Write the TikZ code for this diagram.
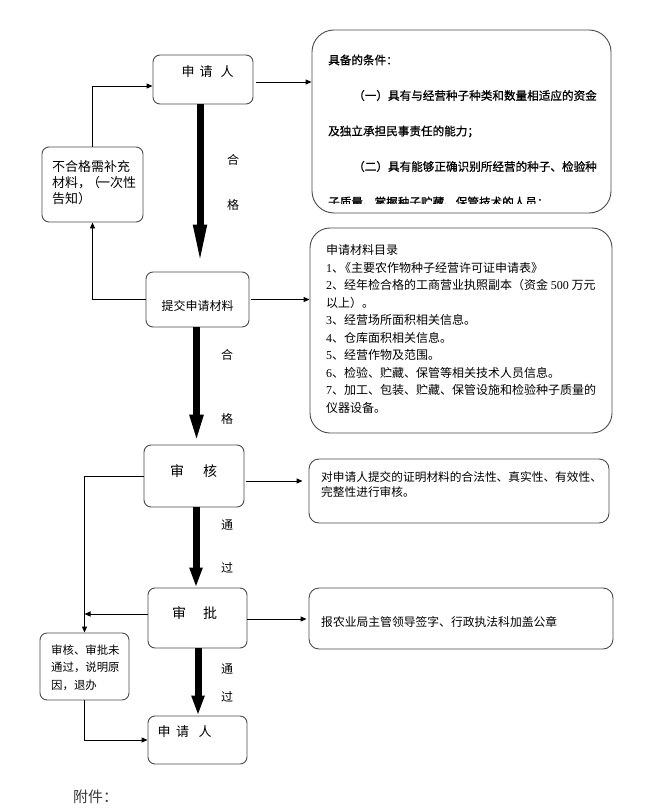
\documentclass[tikz,border=0pt]{standalone}
\usepackage{fontspec}
\setmainfont{Noto Sans CJK SC}
\newfontfamily\ser{Liberation Serif}
\newfontfamily\cjksemi[FakeBold=0.9]{Noto Sans CJK SC}
\usetikzlibrary{arrows.meta,calc}
\definecolor{bordergray}{HTML}{4A4A4A}
\definecolor{fjgray}{HTML}{3A3A3A}
\begin{document}
\begin{tikzpicture}[x=1pt,y=-1pt,
  box/.style={draw=bordergray, line width=0.9pt, rounded corners=7pt, inner sep=0},
  bigbox/.style={box, rounded corners=20pt},
  arr/.style={draw=black, line width=0.9pt, -{Triangle[length=6pt,width=5pt]}},
  fat/.style={line width=7pt, -{Triangle[length=30pt,width=12pt]}},
  lbl/.style={inner sep=0, font=\fontsize{12}{12}\selectfont},
  txt/.style={inner sep=0, anchor=west, align=left}]
\useasboundingbox (0,0) rectangle (652,810);
% boxes
\node[box, minimum width=100pt, minimum height=49pt] (r1) at (203,79.5) {};
\node[bigbox, rounded corners=22pt, minimum width=299pt, minimum height=183pt] (cond) at (461.5,121.5) {};
\node[box, minimum width=101pt, minimum height=75pt] (bhg) at (92.5,184.5) {};
\node[box, minimum width=103pt, minimum height=55pt] (tj) at (197.5,299.5) {};
\node[bigbox, minimum width=302pt, minimum height=205pt] (cl) at (461,330.5) {};
\node[box, minimum width=100pt, minimum height=62pt] (sh) at (194,476) {};
\node[box, rounded corners=10pt, minimum width=300pt, minimum height=64pt] (shd) at (459,491) {};
\node[box, minimum width=99pt, minimum height=60pt] (sp) at (197.5,618) {};
\node[box, rounded corners=10pt, minimum width=304pt, minimum height=61pt] (spd) at (461,618.5) {};
\node[box, minimum width=89pt, minimum height=67pt] (btg) at (84.5,666.5) {};
\node[box, minimum width=99pt, minimum height=48pt] (r2) at (197.5,740) {};
% thick arrows
\draw[fat, -{Triangle[length=42pt,width=12pt]}] ([xshift=-3pt]r1.south) -- ([xshift=-3pt,yshift=5pt]r1.south |- tj.north);
\draw[fat] ([xshift=-1pt]tj.south) -- ([xshift=-1pt]tj.south |- sh.north);
\draw[fat, -{Triangle[length=20pt,width=12pt]}] ([xshift=2pt]sh.south) -- ([xshift=2pt]sh.south |- sp.north);
\draw[fat, -{Triangle[length=20pt,width=12pt]}] ([xshift=0.5pt]sp.south) -- ([xshift=0.5pt]sp.south |- r2.north);
% thin arrows
\draw[arr] ([xshift=3pt,yshift=-2.5pt]r1.east) -- ([yshift=-2.5pt]r1.east -| cond.west);
\draw[arr] (bhg.north) |- ([yshift=-6.5pt]r1.west);
\draw[arr] (tj.west) -| (bhg.south);
\draw[arr] ([xshift=2pt]tj.east) -- (tj.east -| cl.west);
\draw[arr, shorten >=6pt] ([xshift=2pt,yshift=-5pt]sh.east) -- ([yshift=-5pt]sh.east -| shd.west);
\draw[arr] (sh.west) -| (btg.north);
\draw[arr] ([yshift=4pt]sp.west) -- ([yshift=4pt]sp.west -| btg.north);
\draw[arr, shorten >=2pt] ([yshift=-1pt]sp.east) -- ([yshift=-1pt]sp.east -| spd.west);
\draw[arr] (btg.south) |- (r2.west);
% texts
\node[txt, font=\fontsize{13}{13}\selectfont] (t1) at (181.5,72) {申\hspace{5pt}请\hspace{8pt}人};
\begin{scope}
\clip (312,30) rectangle (611,204);
\node[txt, font=\cjksemi\fontsize{11.6}{35.5}\selectfont] (ct) at (328,131) {具备的条件：\\
\hspace*{25pt}（一）具有与经营种子种类和数量相适应的资金\\
及独立承担民事责任的能力；\\
\hspace*{25pt}（二）具有能够正确识别所经营的种子、检验种\\
子质量、掌握种子贮藏、保管技术的人员：};
\end{scope}
\node[txt, font=\fontsize{13}{16}\selectfont] (bt) at (52,183) {不合格需补充\\材料，\kern-4pt（\kern-3pt一次性\\告知）};
\node[lbl] (tt) at (197.5,306) {提交申请材料};
\node[txt, font=\fontsize{12}{17.55}\selectfont] (clt) at (326,329) {申请材料目录\\
{\ser 1}、\kern-5pt《主要农作物种子经营许可证申请表》\\
{\ser 2}、经年检合格的工商营业执照副本（资金 {\ser 500} 万元\\
以上）。\\
{\ser 3}、经营场所面积相关信息。\\
{\ser 4}、仓库面积相关信息。\\
{\ser 5}、经营作物及范围。\\
{\ser 6}、检验、贮藏、保管等相关技术人员信息。\\
{\ser 7}、加工、包装、贮藏、保管设施和检验种子质量的\\
仪器设备。};
\node[txt, font=\fontsize{14}{14}\selectfont] (sht2) at (170,471) {审\hspace{19pt}核};
\node[txt, font=\fontsize{11.7}{15.5}\selectfont] (sht) at (321,484.5) {对申请人提交的证明材料的合法性、真实性、有效性、\\完整性进行审核。};
\node[txt, font=\fontsize{14}{14}\selectfont] (spt2) at (172,613) {审\hspace{17pt}批};
\node[txt, font=\fontsize{11.8}{11.8}\selectfont] (spt) at (321,622) {报农业局主管领导签字、行政执法科加盖公章};
\node[txt, font=\fontsize{11.4}{17.5}\selectfont] (btt) at (51,667.5) {审核、审批未\\通过，说明原\\因，退办};
\node[txt, font=\fontsize{13}{13}\selectfont] (t2) at (157.5,732) {申\hspace{5.5pt}请\hspace{9.5pt}人};
% labels
\node[lbl] (h1) at (233,160) {合};
\node[lbl] (g1) at (233,205) {格};
\node[lbl] (h2) at (227,355) {合};
\node[lbl] (g2) at (227,419) {格};
\node[lbl] (p1) at (227,525) {通};
\node[lbl] (q1) at (227,568) {过};
\node[lbl] (p2) at (227,669) {通};
\node[lbl] (q2) at (227,697) {过};
\node[txt, font=\fontsize{15}{15}\selectfont, text=fjgray] (fj) at (73,797) {附件：};
\end{tikzpicture}
\end{document}
